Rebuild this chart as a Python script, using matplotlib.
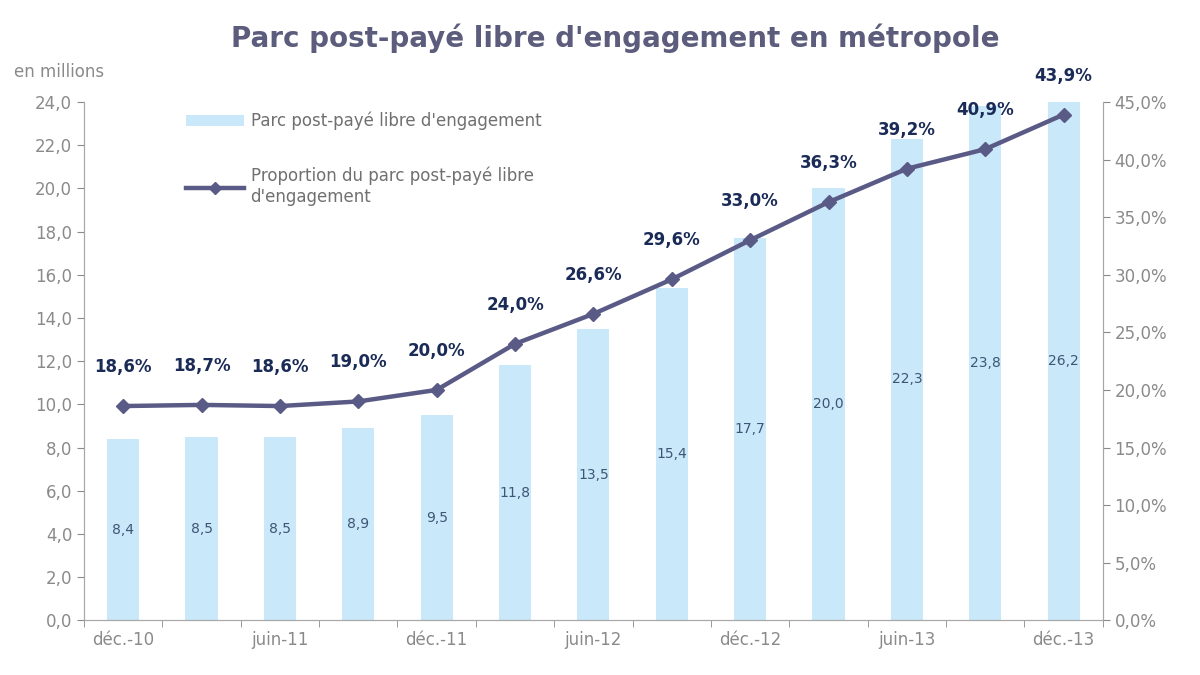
import numpy as np
import matplotlib.pyplot as plt
from matplotlib.lines import Line2D
from matplotlib.patches import Patch

# Données
periodes = ['déc.-10', 'mars-11', 'juin-11', 'sept.-11', 'déc.-11', 'mars-12', 'juin-12',
            'sept.-12', 'déc.-12', 'mars-13', 'juin-13', 'sept.-13', 'déc.-13']
parc = [8.4, 8.5, 8.5, 8.9, 9.5, 11.8, 13.5, 15.4, 17.7, 20.0, 22.3, 23.8, 26.2]
proportion = [18.6, 18.7, 18.6, 19.0, 20.0, 24.0, 26.6, 29.6, 33.0, 36.3, 39.2, 40.9, 43.9]

def virgule(v, dec=1):
    return f"{v:.{dec}f}".replace('.', ',')

gris = '#8A8A8A'
fig = plt.figure(figsize=(12, 6.75), dpi=100)
ax = fig.add_axes([0.07, 0.081, 0.849, 0.768])
ax2 = ax.twinx()

x = np.arange(len(periodes))
ax.bar(x, parc, width=0.41, color='#C9E8FA', zorder=1)
ax.set_xlim(-0.5, len(periodes) - 0.5)
ax.set_ylim(0, 24)
ax.set_yticks(np.arange(0, 25, 2))
ax.set_yticklabels([virgule(v) for v in np.arange(0, 25, 2)])

# étiquettes des barres (au milieu de la partie visible)
for xi, v in zip(x, parc):
    ax.text(xi, min(v, 24) / 2, virgule(v), ha='center', va='center',
            fontsize=10, color='#3C5675')

ax2.plot(x, proportion, color='#5A5A86', lw=3.2, marker='D', ms=7,
         markerfacecolor='#5A5A86', zorder=3)
ax2.set_ylim(0, 45)
ax2.set_yticks(np.arange(0, 46, 5))
ax2.set_yticklabels([virgule(v) + '%' for v in np.arange(0, 46, 5)])
for xi, v in zip(x, proportion):
    ax2.text(xi, v + 2.6, virgule(v) + '%', ha='center', va='bottom',
             fontsize=12, fontweight='bold', color='#1B2B57')

# axe des x : étiquettes tous les deux trimestres, graduations entre catégories
ax.set_xticks(x[::2])
ax.set_xticklabels(periodes[::2])
ax.set_xticks(np.arange(-0.5, len(periodes), 1), minor=True)
ax.tick_params(axis='x', which='major', length=0, pad=8)
ax.tick_params(axis='x', which='minor', length=5, color=gris, direction='out')

for a in (ax, ax2):
    for s in a.spines.values():
        s.set_color('#A8A8A8')
    a.spines['top'].set_visible(False)
    a.tick_params(labelsize=12, labelcolor=gris, color=gris)
ax.tick_params(axis='y', length=5)
ax2.tick_params(axis='y', length=5)
ax.set_zorder(ax2.get_zorder() - 1)
ax2.patch.set_visible(False)

fig.text(0.513, 0.943, "Parc post-payé libre d'engagement en métropole", ha='center',
         va='center', fontsize=20, fontweight='bold', color='#5C5C7C')
fig.text(0.012, 0.893, 'en millions', fontsize=12, color=gris, va='center')

handles = [Patch(facecolor='#C9E8FA', edgecolor='none'),
           Line2D([0], [0], color='#5A5A86', lw=3.2, marker='D', ms=6)]
labels = ["Parc post-payé libre d'engagement",
          "Proportion du parc post-payé libre\nd'engagement"]
leg = ax2.legend(handles, labels, loc='upper left', bbox_to_anchor=(0.085, 1.01),
                 frameon=False, fontsize=12, labelspacing=2.2, handlelength=3.5,
                 handletextpad=0.4)
for t in leg.get_texts():
    t.set_color('#707070')

fig.savefig('out.png', dpi=100, facecolor='white')
